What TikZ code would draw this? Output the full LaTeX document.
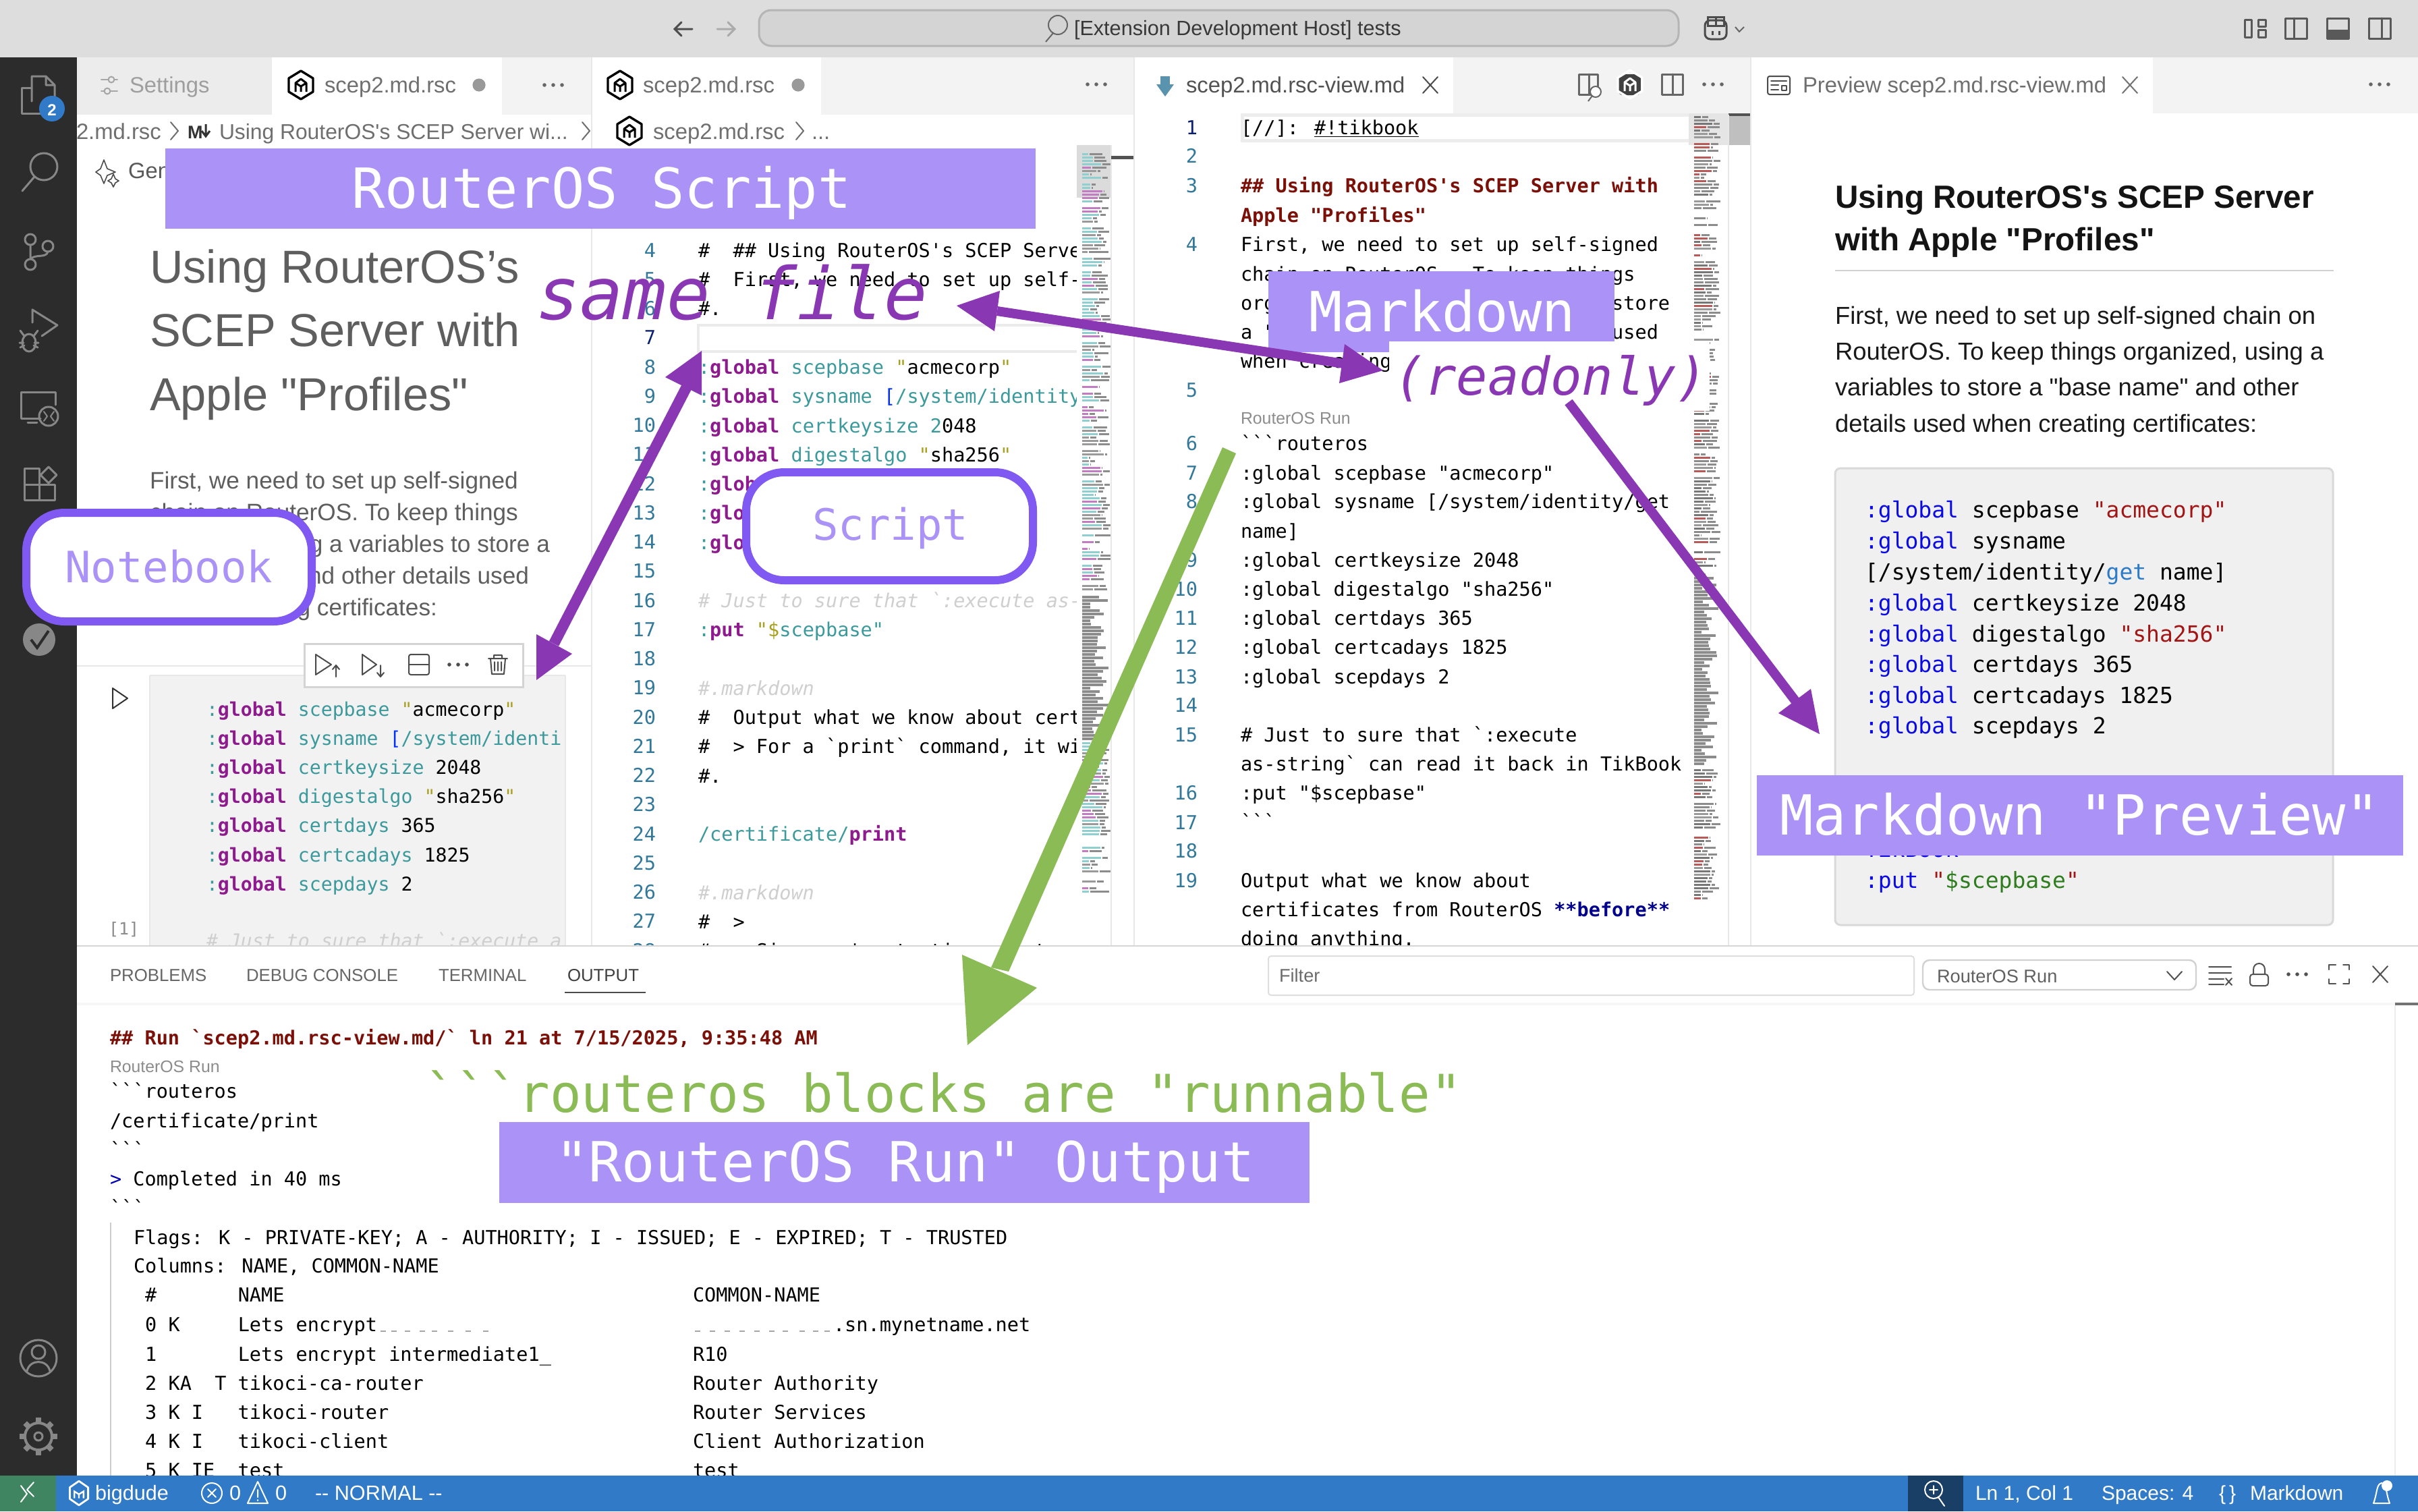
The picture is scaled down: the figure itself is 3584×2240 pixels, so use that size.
\documentclass[tikz,border=0pt]{standalone}
\usepackage{fontspec}
\setmainfont{Liberation Sans}
\newfontfamily\monof{DejaVu Sans Mono}
\newfontfamily\uif{Liberation Sans}
\definecolor{barc}{HTML}{DDDDDD}
\definecolor{sidec}{HTML}{2C2C2C}
\definecolor{tabbg}{HTML}{F3F3F3}
\definecolor{tabin}{HTML}{ECECEC}
\definecolor{labc}{HTML}{AB92F6}
\definecolor{boxc}{HTML}{8059F2}
\definecolor{purc}{HTML}{8A37B4}
\definecolor{grnc}{HTML}{8ABB55}
\definecolor{statc}{HTML}{317AC8}
\definecolor{iconc}{HTML}{878787}
\definecolor{kw}{HTML}{8E1B8E}
\definecolor{vt}{HTML}{3C9A9C}
\definecolor{st}{HTML}{A8A01E}
\definecolor{lnc}{HTML}{31789A}
\definecolor{lna}{HTML}{0B216F}
\definecolor{cmt}{HTML}{CFCFCF}
\definecolor{brk}{HTML}{0431FA}
\definecolor{hd}{HTML}{7A1008}
\definecolor{pkw}{HTML}{0A0AE6}
\definecolor{pst}{HTML}{A31515}
\definecolor{pgt}{HTML}{2B7BC8}
\definecolor{pgr}{HTML}{2E7D1E}
\definecolor{uig}{HTML}{6F6F6F}
\definecolor{mmg}{HTML}{8C8C8C}
\definecolor{mm1}{HTML}{8FCFCF}
\definecolor{mm2}{HTML}{C27CC2}
\definecolor{mm3}{HTML}{9A9A9A}
\definecolor{mm4}{HTML}{8FCFCF}
\definecolor{mr1}{HTML}{8C8C8C}
\definecolor{mr2}{HTML}{B85A5A}
\definecolor{mr3}{HTML}{9A9A9A}
\definecolor{mr4}{HTML}{777777}
\definecolor{remc}{HTML}{3F8561}
\definecolor{zoomc}{HTML}{1A3F66}
\tikzset{
  txt/.style={anchor=base west,inner sep=0pt,outer sep=0pt},
  ui/.style={font=\uif\fontsize{#1}{#1}\selectfont},
  uib/.style={font=\uif\bfseries\fontsize{#1}{#1}\selectfont},
  mono/.style={font=\monof\fontsize{#1}{#1}\selectfont},
  monoi/.style={font=\monof\itshape\fontsize{#1}{#1}\selectfont},
  ic/.style={draw=#1,line width=1.5pt,fill=none,line cap=round,line join=round},
  ic/.default=iconc,
  lab/.style={fill=labc},
  ann/.style={txt,mono=41,text=white},
  callout/.style={draw=boxc,line width=6pt,fill=white,rounded corners=28pt},
  callt/.style={txt,mono=32,text=labc},
  arrp/.style={fill=purc,draw=none},
}
\newcounter{tn}
\newcommand\TX[4][]{\stepcounter{tn}\node[txt,name=t\arabic{tn},#1] at (#2,#3) {#4};}
\newcommand\Dots[3][uig]{\fill[#1] (#2-13,#3) circle (1.4pt) (#2,#3) circle (1.4pt) (#2+13,#3) circle (1.4pt);}
\newcommand\Xx[3][uig]{\draw[ic=#1,line width=1pt] (#2-11,#3-12) -- (#2+11,#3+12) (#2-11,#3+12) -- (#2+11,#3-12);}
\newcommand\Chev[2]{\draw[ic=uig,line width=1pt] (#1-5,#2-13) -- (#1+6,#2) -- (#1-5,#2+13);}
\newcommand\Hexi[3]{\begin{scope}[shift={(#1,#2)}]
 \draw[draw=#3,line width=1.7pt,line join=round] (0,-21) -- (18,-10) -- (18,10) -- (0,21) -- (-18,10) -- (-18,-10) -- cycle;
 \draw[draw=#3,line width=1.5pt,line join=round] (-8,10) -- (-8,-3) -- (0,2) -- (8,-3) -- (8,10) (0,2) -- (0,10) (-8,-3) -- (0,-9) -- (8,-3);
 \end{scope}}
% editor code fragments
\newcommand\Gl{\textcolor{vt}{:}\textcolor{kw}{\bfseries global}}
\newcommand\Vr[1]{\textcolor{vt}{#1}}
\newcommand\Qq[1]{\textcolor{st}{"}#1\textcolor{st}{"}}
\newcommand\PG{\textcolor{pkw}{:global}}
\newcommand\Minimap[6]{% x0, width, y0, y1, prefix, seed
 \pgfmathsetseed{#6}
 \foreach \yy in {#3,\the\numexpr#3+5\relax,...,#4}{
  \pgfmathsetmacro\wa{8+rnd*(#2-8)*0.7}
  \pgfmathsetmacro\wb{rnd*(#2-\wa)*0.95}
  \pgfmathtruncatemacro\cc{random(1,4)}
  \pgfmathtruncatemacro\skp{random(0,7)}
  \ifnum\skp>0
   \fill[#5\cc] (#1,\yy) rectangle ++(\wa,3.4);
   \fill[mmg] (#1+\wa+2,\yy) rectangle ++(\wb,3.4);
  \fi
 }}
\newcommand\MinBlock[5]{% x0,width,y0,y1,seed
 \pgfmathsetseed{#5}
 \foreach \yy in {#3,\the\numexpr#3+5\relax,...,#4}{
  \pgfmathsetmacro\wa{#2*0.25+rnd*#2*0.7}
  \fill[mmg] (#1,\yy) rectangle ++(\wa,4.4);
 }}
\begin{document}
\begin{tikzpicture}[x=0.5pt,y=-0.5pt]
\useasboundingbox (0,0) rectangle (3584,2240);
\clip (0,0) rectangle (3584,2240);
\fill[white] (0,0) rectangle (3584,2240);
% ---------- title bar
\fill[barc] (0,0) rectangle (3584,85);
\draw[draw=uig!70!black,line width=1.5pt,line cap=round] (1000,43) -- (1026,43) (1010,33) -- (1000,43) -- (1010,53);
\draw[draw=iconc!70,line width=1.5pt,line cap=round] (1063,43) -- (1089,43) (1079,33) -- (1089,43) -- (1079,53);
\draw[fill=black!17,draw=black!29,line width=1.5pt,rounded corners=9pt] (1125,15) rectangle (2488,68);
\draw[draw=black!60,line width=1pt] (1568,37) circle (7pt) (1561,49) -- (1550,62);
\TX[ui=15.3,text=black!78]{1592}{52}{[Extension Development Host] tests}
\draw[draw=black!70,line width=1.5pt,rounded corners=4pt] (2527,30) rectangle (2559,58);
\draw[draw=black!70,line width=1.5pt] (2531,25) rectangle (2543,38) (2543,25) rectangle (2555,38) (2538,46) -- (2538,52) (2548,46) -- (2548,52);
\draw[draw=black!60,line width=1pt] (2572,40) -- (2578,47) -- (2585,40);
% layout icons
\draw[ic=black!65] (3327,29) rectangle (3337,55) (3347,29) rectangle (3358,39) (3347,44) rectangle (3358,55);
\draw[ic=black!65] (3387,27) rectangle (3419,57) (3400,27) -- (3400,57);
\draw[ic=black!65] (3449,27) rectangle (3481,57);
\fill[black!65] (3449,44) rectangle (3481,57);
\draw[ic=black!65] (3511,27) rectangle (3543,57) (3530,27) -- (3530,57);
% ---------- pane 1: tabs
\fill[tabbg] (114,85) rectangle (878,170);
\fill[tabin] (114,85) rectangle (403,170);
\fill[white] (403,85) rectangle (744,170);
\draw[ic=black!35,line width=1pt] (150,118) -- (160,118) (170,118) -- (174,118) (150,135) -- (154,135) (164,135) -- (174,135);
\draw[ic=black!35,line width=1pt] (165,118) circle (2.2pt) (159,135) circle (2.2pt);
\TX[ui=16.4,text=black!38]{192}{137}{Settings}
\Hexi{446}{126}{black}
\TX[ui=16.4,text=uig]{481}{137}{scep2.md.rsc}
\fill[black!40] (710,126) circle (4.8pt);
\Dots[black!60]{820}{126}
% pane 1 breadcrumb
\TX[ui=16.4,text=uig]{113}{206}{2.md.rsc}
\Chev{258}{194}
\TX[uib=13.5,text=black!80]{278}{205}{M}
\draw[draw=black!80,line width=1.5pt] (305,184) -- (305,200) (299,194) -- (305,202) -- (311,194);
\TX[ui=15.9,text=uig]{325}{206}{Using RouterOS's SCEP Server wi...}
\Chev{868}{194}
% Gen + sparkle
\draw[ic=black!70,line width=0.8pt] (154,237) -- (159,250) -- (171,255) -- (159,260) -- (154,272) -- (149,260) -- (142,255) -- (149,250) -- cycle;
\draw[ic=black!70,line width=0.8pt] (168,258) -- (171,265) -- (176,268) -- (171,271) -- (168,277) -- (165,271) -- (160,268) -- (165,265) -- cycle;
\TX[ui=16.4,text=uig!80!black]{190}{264}{Gen}
% notebook heading
\TX[ui=34.3,text=black!63]{222}{419}{Using RouterOS’s}
\TX[ui=34.3,text=black!63]{222}{513}{SCEP Server with}
\TX[ui=34.3,text=black!63]{222}{608}{Apple "Profiles"}
\TX[ui=17.6,text=black!63]{222}{724}{First, we need to set up self-signed}
\TX[ui=17.6,text=black!63]{222}{771}{chain on RouterOS. To keep things}
\TX[ui=17.6,text=black!63,anchor=base east]{815}{818}{organized, using a variables to store a}
\TX[ui=17.6,text=black!63,anchor=base east]{784}{865}{"base name" and other details used}
\TX[ui=17.6,text=black!63,anchor=base east]{648}{912}{when creating certificates:}
\draw[draw=black!9,line width=1pt] (114,987) -- (878,987);
\fill[black!5] (222,1001) rectangle (838,1402);
\draw[draw=black!9,line width=1pt] (222,1001) -- (838,1001) (222,1001) -- (222,1402) (838,1001) -- (838,1402);
\draw[ic=black!80,line width=1pt] (167,1020) -- (189,1035) -- (167,1050) -- cycle;
\TX[mono=12.5,text=black!45]{161}{1385}{[1]}
% notebook code
\TX[mono=14.1]{306}{1061}{\Gl{} \Vr{scepbase} \Qq{acmecorp}}
\TX[mono=14.1]{306}{1104}{\Gl{} \Vr{sysname} \textcolor{brk}{[}\Vr{/system/identi}}
\TX[mono=14.1]{306}{1147}{\Gl{} \Vr{certkeysize} 2048}
\TX[mono=14.1]{306}{1190}{\Gl{} \Vr{digestalgo} \Qq{sha256}}
\TX[mono=14.1]{306}{1233}{\Gl{} \Vr{certdays} 365}
\TX[mono=14.1]{306}{1277}{\Gl{} \Vr{certcadays} 1825}
\TX[mono=14.1]{306}{1320}{\Gl{} \Vr{scepdays} 2}
\TX[monoi=14.1,text=cmt]{306}{1404}{\# Just to sure that `:execute a}
\fill[white] (839,1001) rectangle (876,1402);
% cell toolbar
\draw[draw=black!17,line width=1.5pt,fill=white] (451,954) rectangle (775,1018);
\draw[ic=black!70,line width=1pt] (468,970) -- (491,985) -- (468,1000) -- cycle (498,1003) -- (498,986) (493,992) -- (498,986) -- (503,992);
\draw[ic=black!70,line width=1pt] (537,970) -- (558,985) -- (537,1000) -- cycle (564,986) -- (564,1003) (559,997) -- (564,1003) -- (569,997);
\draw[ic=black!70,line width=1pt,rounded corners=1.5pt] (606,970) rectangle (636,1000);
\draw[ic=black!70,line width=1pt] (606,985) -- (636,985);
\Dots[black!70]{679}{985}
\draw[ic=black!70,line width=1pt] (724,976) -- (752,976) (732,976) -- (732,971) -- (744,971) -- (744,976) (727,976) -- (729,999) -- (747,999) -- (749,976) (733,981) -- (733,994) (738,981) -- (738,994) (743,981) -- (743,994);
\draw[draw=black!9,line width=1pt] (877,85) -- (877,1402);
% ---------- pane 2: tabs
\fill[tabbg] (880,85) rectangle (1681,170);
\fill[white] (880,85) rectangle (1217,170);
\Hexi{919}{126}{black}
\TX[ui=16.4,text=uig]{953}{137}{scep2.md.rsc}
\fill[black!40] (1183,126) circle (4.8pt);
\Dots[black!60]{1625}{125}
\Hexi{933}{194}{black}
\TX[ui=16.4,text=uig]{968}{206}{scep2.md.rsc}
\Chev{1185}{194}
\TX[ui=16.4,text=uig]{1203}{206}{...}
% pane 2 editor
\foreach \n in {4,5,6,8,9,...,28}{
  \node[txt,anchor=base east,mono=14.28,text=lnc,name=pb\n] at (972,{381+(\n-4)*43.25}) {\n};
}
\node[txt,anchor=base east,mono=14.28,text=lna,name=pb7] at (972,{381+3*43.25}) {7};
\draw[draw=black!8,line width=2pt] (1035,482) rectangle (1620,521);
\newcommand\LB[2]{\TX[mono=14.28]{1035}{\the\numexpr#1\relax}{#2}}
\LB{381}{\#~~\#\# Using RouterOS's SCEP Server}
\LB{424}{\#~~First, we need to set up self-sig}
\LB{467}{\#.}
\LB{554}{\Gl{} \Vr{scepbase} \Qq{acmecorp}}
\LB{597}{\Gl{} \Vr{sysname} \textcolor{brk}{[}\Vr{/system/identity/get}}
\LB{641}{\Gl{} \Vr{certkeysize} \Vr{2}048}
\LB{684}{\Gl{} \Vr{digestalgo} \Qq{sha256}}
\LB{727}{\Gl{} \Vr{certdays} 365}
\LB{770}{\Gl{} \Vr{certcadays} 1825}
\LB{814}{\Gl{} \Vr{scepdays} 2}
\TX[monoi=14.28,text=cmt]{1035}{900}{\# Just to sure that `:execute as-}
\LB{943}{\textcolor{vt}{:}\textcolor{kw}{\bfseries put} \textcolor{st}{"\$}\Vr{scepbase}\textcolor{vt}{"}}
\TX[monoi=14.28,text=cmt]{1035}{1030}{\#.markdown}
\LB{1073}{\#~~Output what we know about certifi}
\LB{1116}{\#~~> For a `print` command, it will}
\LB{1160}{\#.}
\LB{1246}{\Vr{/certificate/}\textcolor{kw}{\bfseries print}}
\TX[monoi=14.28,text=cmt]{1035}{1333}{\#.markdown}
\LB{1376}{\#~~>}
\LB{1419}{\#~~> Since we're testing, just per}
\fill[white] (1596,215) rectangle (1681,1402);
\fill[black!14] (1596,215) rectangle (1647,293);
\Minimap{1604}{43}{222}{880}{mm}{11}
\MinBlock{1604}{42}{883}{1097}{5}
\Minimap{1604}{43}{1100}{1325}{mm}{6}
\draw[draw=black!9,line width=1pt] (1647,215) -- (1647,1402);
\fill[black!68] (1647,231) rectangle (1681,236);
\draw[draw=black!9,line width=1pt] (1681,85) -- (1681,1402);
% ---------- pane 3: tabs
\fill[tabbg] (1682,85) rectangle (2595,168);
\fill[white] (1682,85) rectangle (2154,170);
\fill[lnc!80] (1720,113) rectangle (1734,126);
\fill[lnc!80] (1714,125) -- (1740,125) -- (1727,143) -- cycle;
\TX[ui=16.4,text=black!68]{1758}{137}{scep2.md.rsc-view.md}
\Xx[black!70]{2120}{126}
\draw[ic=black!60] (2340,110) rectangle (2368,140) (2355,110) -- (2355,140);
\draw[draw=black!60,fill=white,line width=1pt] (2365,136) circle (4pt) (2360,142) -- (2354,150);
\fill[black!75,rounded corners=3pt] (2399,110) rectangle (2432,141);
\Hexi{2416}{125}{white}
\draw[ic=black!60] (2463,110) rectangle (2494,140) (2479,110) -- (2479,140);
\Dots[black!60]{2539}{125}
% pane 3 editor
\newcommand\NR[2]{\TX[anchor=base east,mono=14.28,text=lnc]{1775}{\the\numexpr#2+10\relax}{#1}}
\newcommand\PT[2]{\TX[mono=14.28]{1839}{\the\numexpr#1+10\relax}{#2}}
\fill[black!7] (1839,168) rectangle (2503,211);
\fill[white] (1844,173) rectangle (2503,206);
\NR{\textcolor{lna}{1}}{189}\NR{2}{231}\NR{3}{275}\NR{4}{362}\NR{5}{578}\NR{6}{657}\NR{7}{701}\NR{8}{743}\NR{9}{830}
\NR{10}{873}\NR{11}{916}\NR{12}{959}\NR{13}{1003}\NR{14}{1045}\NR{15}{1089}\NR{16}{1175}\NR{17}{1219}\NR{18}{1261}\NR{19}{1305}
\PT{189}{[//]: \underline{\#!tikbook}}
\PT{275}{\textcolor{hd}{\bfseries \#\# Using RouterOS's SCEP Server with}}
\PT{319}{\textcolor{hd}{\bfseries Apple "Profiles"}}
\PT{362}{First, we need to set up self-signed}
\PT{406}{chain on RouterOS.~~To keep things}
\PT{449}{organized, using a variables to store}
\PT{492}{a "base name" and other details used}
\PT{535}{when creating}
\TX[ui=12.4,text=black!45]{1839}{628}{RouterOS Run}
\PT{657}{```routeros}
\PT{701}{:global scepbase "acmecorp"}
\PT{743}{:global sysname [/system/identity/get}
\PT{787}{name]}
\PT{830}{:global certkeysize 2048}
\PT{873}{:global digestalgo "sha256"}
\PT{916}{:global certdays 365}
\PT{959}{:global certcadays 1825}
\PT{1003}{:global scepdays 2}
\PT{1089}{\# Just to sure that `:execute}
\PT{1132}{as-string` can read it back in TikBook}
\PT{1175}{:put "\$scepbase"}
\PT{1218}{```}
\PT{1305}{Output what we know about}
\PT{1348}{certificates from RouterOS \textcolor{blue!55!black}{\bfseries **before**}}
\PT{1391}{doing anything.}
\fill[black!10] (2503,168) rectangle (2562,215);
\fill[black!25] (2562,172) rectangle (2595,215);
\fill[black!68] (2562,168) rectangle (2595,172);
\Minimap{2511}{38}{172}{840}{mr}{3}
\MinBlock{2511}{38}{850}{1130}{9}
\Minimap{2511}{38}{1135}{1330}{mr}{8}
\draw[draw=black!9,line width=1pt] (2562,170) -- (2562,1402) (2595,85) -- (2595,1402);
% ---------- pane 4
\fill[tabbg] (2596,85) rectangle (3584,168);
\fill[white] (2596,85) rectangle (3191,170);
\draw[ic=black!70,line width=1pt,rounded corners=1.5pt] (2620,113) rectangle (2653,140);
\draw[ic=black!70,line width=1pt] (2625,120) -- (2648,120) (2625,126) -- (2636,126) (2625,133) -- (2636,133) (2641,127) rectangle (2648,134);
\TX[ui=16.4,text=uig]{2672}{137}{Preview scep2.md.rsc-view.md}
\Xx[black!55]{3157}{126}
\Dots[black!60]{3527}{125}
\TX[uib=23.8,text=black!92]{2720}{308}{Using RouterOS's SCEP Server}
\TX[uib=23.8,text=black!92]{2720}{371}{with Apple "Profiles"}
\draw[draw=black!18,line width=1pt] (2720,401) -- (3459,401);
\TX[ui=18.2,text=black!90]{2720}{480}{First, we need to set up self-signed chain on}
\TX[ui=18.2,text=black!90]{2720}{533}{RouterOS. To keep things organized, using a}
\TX[ui=18.2,text=black!90]{2720}{586}{variables to store a "base name" and other}
\TX[ui=18.2,text=black!90]{2720}{640}{details used when creating certificates:}
\draw[draw=black!15,fill=black!6,line width=1.5pt,rounded corners=4pt] (2720,694) rectangle (3458,1371);
\newcommand\PV[2]{\TX[mono=16.5]{2764}{\the\numexpr#1+11\relax}{#2}}
\PV{756}{\PG{} scepbase \textcolor{pst}{"acmecorp"}}
\PV{802}{\PG{} sysname}
\PV{848}{[/system/identity/\textcolor{pgt}{get} name]}
\PV{894}{\PG{} certkeysize 2048}
\PV{940}{\PG{} digestalgo \textcolor{pst}{"sha256"}}
\PV{985}{\PG{} certdays 365}
\PV{1031}{\PG{} certcadays 1825}
\PV{1076}{\PG{} scepdays 2}
\PV{1259}{\textcolor{pkw}{TikBook}}
\PV{1305}{\textcolor{pkw}{:put} \textcolor{pst}{"}\textcolor{pgr}{\$scepbase}\textcolor{pst}{"}}
% ---------- bottom panel
\fill[white] (114,1402) rectangle (3584,2187);
\draw[draw=black!16,line width=1pt] (114,1402) -- (3584,1402);
\TX[ui=12.9,text=black!60]{163}{1454}{PROBLEMS}
\TX[ui=12.9,text=black!60]{365}{1454}{DEBUG CONSOLE}
\TX[ui=12.9,text=black!60]{650}{1454}{TERMINAL}
\TX[ui=12.9,text=black!75]{841}{1454}{OUTPUT}
\draw[draw=black!70,line width=1pt] (837,1471) -- (957,1471);
\draw[draw=black!13,fill=white,line width=1pt,rounded corners=2pt] (1880,1417) rectangle (2837,1475);
\TX[ui=13.6,text=black!58]{1896}{1455}{Filter}
\draw[draw=black!18,fill=white,line width=1.2pt,rounded corners=5pt] (2850,1423) rectangle (3255,1467);
\TX[ui=13.6,text=black!62]{2871}{1456}{RouterOS Run}
\draw[ic=black!68,line width=1pt] (3212,1440) -- (3223,1452) -- (3234,1440);
\draw[ic=black!68,line width=1pt] (3274,1433) -- (3307,1433) (3274,1442) -- (3307,1442) (3274,1451) -- (3296,1451) (3274,1459) -- (3296,1459) (3299,1450) -- (3308,1460) (3308,1450) -- (3299,1460);
\draw[ic=black!68,line width=1pt,rounded corners=2pt] (3335,1444) rectangle (3362,1461);
\draw[ic=black!68,line width=1pt] (3340,1444) -- (3340,1437) .. controls (3340,1425) and (3357,1425) .. (3357,1437) -- (3357,1444);
\Dots[black!68]{3405}{1444}
\draw[ic=black!68,line width=1pt] (3452,1437) -- (3452,1430) -- (3462,1430) (3473,1430) -- (3482,1430) -- (3482,1437) (3482,1451) -- (3482,1458) -- (3473,1458) (3462,1458) -- (3452,1458) -- (3452,1451);
\Xx[black!68]{3528}{1444}
\fill[black!3] (114,1486) rectangle (3584,1490);
\fill[black!55] (3550,1486) rectangle (3584,1490);
\draw[draw=black!7,line width=1pt] (3550,1490) -- (3550,2187);
% output text
\newcommand\OP[3][]{\TX[mono=14.28,#1]{#2}{\the\numexpr#3+10\relax}}
\OP[text=hd]{163}{1538}{\bfseries \#\# Run `scep2.md.rsc-view.md/` ln 21 at 7/15/2025, 9:35:48 AM}
\TX[ui=12.4,text=black!45]{163}{1589}{RouterOS Run}
\OP{163}{1617}{```routeros}
\OP{163}{1661}{/certificate/print}
\OP{163}{1704}{```}
\OP{163}{1747}{\textcolor{blue!70!black}{>} Completed in 40 ms}
\OP{163}{1790}{```}
\draw[draw=black!20,line width=1pt] (164,1812) -- (164,2187);
\OP{198}{1834}{Flags: K - PRIVATE-KEY; A - AUTHORITY; I - ISSUED; E - EXPIRED; T - TRUSTED}
\OP{198}{1876}{Columns: NAME, COMMON-NAME}
\OP{198}{1919}{~\#~~~~~~~NAME}
\OP{1027}{1919}{COMMON-NAME}
\OP{198}{1963}{~0~K~~~~~Lets encrypt}
\foreach \xx in {564,580,600,622,640,664,690,716}{\fill[black!35] (\xx,1972) rectangle ++(8,2);}
\foreach \xx in {1030,1052,1074,1096,1118,1140,1160,1185,1205,1222}{\fill[black!35] (\xx,1972) rectangle ++(8,2);}
\OP{1235}{1963}{.sn.mynetname.net}
\OP{198}{2007}{~1~~~~~~~Lets encrypt intermediate1\_}
\OP{1027}{2007}{R10}
\OP{198}{2050}{~2~KA~~T~tikoci-ca-router}
\OP{1027}{2050}{Router Authority}
\OP{198}{2093}{~3~K~I~~~tikoci-router}
\OP{1027}{2093}{Router Services}
\OP{198}{2136}{~4~K~I~~~tikoci-client}
\OP{1027}{2136}{Client Authorization}
\OP{198}{2179}{~5~K~IE~~test}
\OP{1027}{2179}{test}
% ---------- activity bar
\fill[sidec] (0,85) rectangle (114,2187);
\draw[ic] (47,150) -- (47,113) -- (68,113) -- (81,126) -- (81,150) (68,113) -- (68,126) -- (81,126);
\draw[ic] (47,130) -- (32,130) -- (32,168) -- (62,168);
\fill[statc] (77,161) circle (9.5pt);
\TX[uib=12,text=white,anchor=base]{77}{171}{2}
\draw[ic] (65,247) circle (10pt) (51,262) -- (33,283);
\draw[ic] (45,355) circle (4pt) (71,365) circle (4pt) (45,392) circle (4pt) (45,363) -- (45,384);
\draw[ic] (71,373) .. controls (69,383) and (52,376) .. (45,384);
\draw[ic] (48,478) -- (48,459) -- (85,482) -- (62,498);
\draw[ic] (43,508) ellipse (5pt and 6.5pt) (30,490) -- (36,498) (56,490) -- (50,498) (29,508) -- (35,508) (57,508) -- (51,508) (30,515) -- (36,512) (56,515) -- (50,512);
\draw[ic] (60,620) -- (31,620) -- (31,581) -- (82,581) -- (82,600) (41,626) -- (55,626);
\draw[ic] (72,617) circle (7pt);
\draw[ic=iconc,line width=1pt] (65,610) -- (70,617) -- (65,624) (80,610) -- (75,617) -- (80,624);
\draw[ic] (36,694) rectangle (58,718) (36,718) rectangle (58,741) (58,718) rectangle (81,741);
\draw[ic] (72,692) -- (84,704) -- (72,716) -- (60,704) -- cycle;
\fill[iconc] (58,948) circle (12pt);
\draw[draw=sidec,line width=2pt] (46,948) -- (55,960) -- (72,935);
\draw[ic] (57,2013) circle (13.5pt) (57,2004) circle (5pt);
\draw[ic] (40,2032) .. controls (44,2014) and (70,2014) .. (74,2032);
\foreach \a in {0,45,...,315}{\draw[draw=iconc,line width=4pt] ({57+19*cos(\a)},{2129+19*sin(\a)}) -- ({57+28*cos(\a)},{2129+28*sin(\a)});}
\draw[draw=iconc,line width=2pt,fill=sidec] (57,2129) circle (10pt);
\draw[draw=iconc,line width=1.5pt] (57,2129) circle (3pt);
% ---------- status bar
\fill[statc] (0,2187) rectangle (3584,2240);
\fill[remc] (0,2187) rectangle (83,2240);
\draw[ic=white,line width=1pt] (31,2202) -- (40,2214) -- (31,2226) (50,2197) -- (40,2208) -- (50,2218);
\begin{scope}[shift={(117,2213)},scale=0.85]
 \draw[draw=white,line width=1.4pt,line join=round] (0,-21) -- (16,-10) -- (16,10) -- (0,21) -- (-16,10) -- (-16,-10) -- cycle;
 \draw[draw=white,line width=1.2pt] (-8,9) -- (-8,-3) -- (0,2) -- (8,-3) -- (8,9) (0,2) -- (0,9);
\end{scope}
\TX[ui=15.3,text=white]{141}{2223}{bigdude}
\draw[ic=white,line width=1pt] (314,2213) circle (7.5pt) (308,2207) -- (320,2219) (308,2219) -- (320,2207);
\TX[ui=15.3,text=white]{340}{2223}{0}
\draw[ic=white,line width=1pt] (382,2196) -- (397,2228) -- (367,2228) -- cycle (382,2208) -- (382,2219) (382,2223) -- (382,2224);
\TX[ui=15.3,text=white]{408}{2223}{0}
\TX[ui=15.3,text=white]{467}{2223}{-- NORMAL --}
\fill[zoomc] (2828,2187) rectangle (2910,2240);
\draw[ic=white,line width=1pt] (2866,2208) circle (6.5pt) (2873,2219) -- (2882,2232) (2866,2202) -- (2866,2214) (2860,2208) -- (2872,2208);
\TX[ui=15,text=white]{2928}{2223}{Ln 1, Col 1}
\TX[ui=15,text=white]{3115}{2223}{Spaces: 4}
\TX[ui=15,text=white]{3289}{2223}{\{\,\}}
\TX[ui=15,text=white]{3335}{2223}{Markdown}
\draw[ic=white,line width=1pt] (3518,2228) .. controls (3524,2212) and (3522,2200) .. (3530,2198) .. controls (3538,2200) and (3536,2212) .. (3542,2228) -- cycle;
\fill[white] (3538,2202) circle (4pt);
% ---------- annotations
\fill[lab] (245,220) rectangle (1535,339);
\TX[ann,name=lrs]{521}{308}{RouterOS Script}
\fill[lab] (1880,402) rectangle (2393,522);
\TX[ann,name=lmd]{1940}{491}{Markdown}
\fill[white] (2059,505.5) rectangle (2534,609);
\TX[monoi=38.6,text=purc]{2066}{585}{(readonly)}
\TX[monoi=53.5,text=purc]{795}{473}{same file}
\fill[lab] (2604,1149) rectangle (3562,1268);
\TX[ann]{2638}{1237}{Markdown "Preview"}
\fill[lab] (740,1663) rectangle (1941,1783);
\TX[ann]{823}{1751}{"RouterOS Run" Output}
\TX[mono=38.7,text=grnc]{629}{1648}{```routeros blocks are "runnable"}
% callouts
\draw[callout] (39,760) rectangle (462,921);
\TX[callt]{96}{863}{Notebook}
\draw[callout] (1106,700) rectangle (1531,860);
\TX[callt]{1204}{800}{Script}
% arrows
\coordinate (aN1) at (795,940); \coordinate (aN2) at (848,969); \coordinate (aN3) at (795,1008);
\coordinate (aS1) at (1040,520); \coordinate (aS2) at (986,559); \coordinate (aS3) at (1040,586);
\coordinate (sA1) at (1018,573); \coordinate (sA2) at (821,954);
\draw[draw=purc,line width=8pt] (sA1) -- (sA2);
\fill[arrp] (aN1) -- (aN2) -- (aN3) -- cycle;
\fill[arrp] (aS1) -- (aS2) -- (aS3) -- cycle;
\coordinate (bL1) at (1418,453); \coordinate (bL2) at (1482,431); \coordinate (bL3) at (1474,491);
\coordinate (bR1) at (1993,510); \coordinate (bR2) at (2050,549); \coordinate (bR3) at (1985,568);
\coordinate (sB1) at (1478,461); \coordinate (sB2) at (1992,539);
\draw[draw=purc,line width=7pt] (sB1) -- (sB2);
\fill[arrp] (bL1) -- (bL2) -- (bL3) -- cycle;
\fill[arrp] (bR1) -- (bR2) -- (bR3) -- cycle;
\coordinate (sC1) at (2325,596); \coordinate (sC2) at (2662,1040);
\coordinate (cH1) at (2684,1021); \coordinate (cH2) at (2697,1088); \coordinate (cH3) at (2636,1057);
\draw[draw=purc,line width=7pt] (sC1) -- (sC2);
\fill[arrp] (cH1) -- (cH2) -- (cH3) -- cycle;
\coordinate (g1) at (1812,663); \coordinate (g2) at (1832,672); \coordinate (g3) at (1495,1440); \coordinate (g4) at (1469,1434);
\coordinate (gH1) at (1426,1415); \coordinate (gH2) at (1537,1464); \coordinate (gH3) at (1434,1549);
\fill[grnc] (g1) -- (g2) -- (g3) -- (g4) -- cycle;
\fill[grnc] (gH1) -- (gH2) -- (gH3) -- cycle;
\end{tikzpicture}
\end{document}
